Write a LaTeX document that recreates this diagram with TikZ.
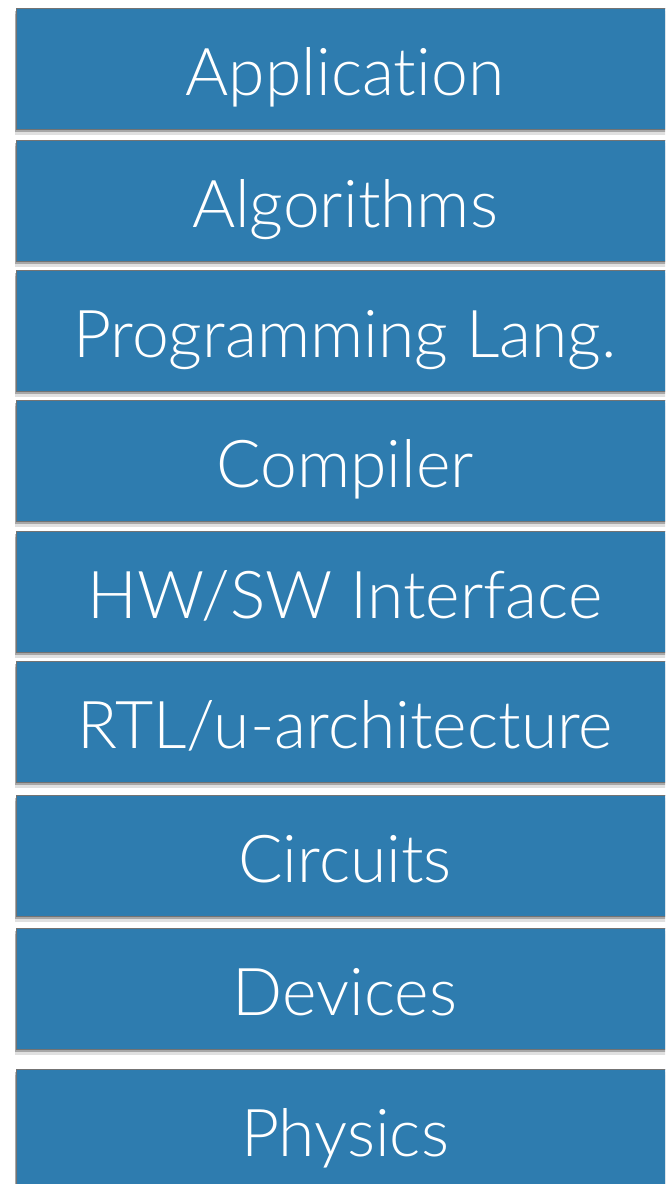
\documentclass[tikz,border=0pt]{standalone}
\usepackage{fontspec}
\setmainfont{Lato}[UprightFont={* Light}, Ligatures={NoCommon}]
\usetikzlibrary{shadows}
\definecolor{layerblue}{RGB}{46,124,175}
\begin{document}
\begin{tikzpicture}[x=1pt,y=-1pt,
  layer/.style={rectangle, fill=layerblue, draw=black!55, line width=0.8pt,
    minimum width=658pt, minimum height=121pt, inner sep=0pt, text=white,
    font=\fontsize{66}{66}\selectfont, text height=53pt, text depth=0pt,
    drop shadow={shadow xshift=-1pt, shadow yshift=-6pt, opacity=.12, fill=black},
    drop shadow={shadow xshift=-0.8pt, shadow yshift=-3pt, opacity=.25, fill=black}}]
\useasboundingbox (0,0) rectangle (665,1184);
\clip (0,0) rectangle (665,1184);
\fill[white] (0,0) rectangle (665,1184);
\node[layer] (app)  at (345,68.5)  {Application};
\node[layer] (alg)  at (345,200.5) {Algorithms};
\node[layer] (lang) at (345,330.5) {Programming Lang.};
\node[layer] (comp) at (345,460.5) {Compiler};
\node[layer] (hwsw) at (345,591.5) {HW/SW Interface};
\node[layer] (rtl)  at (345,721.5) {RTL/u-architecture};
\node[layer] (circ) at (345,855.5) {Circuits};
\node[layer] (dev)  at (345,988.5) {Devices};
\node[layer] (phys) at (345,1129.5) {Physics};
\end{tikzpicture}
\end{document}
